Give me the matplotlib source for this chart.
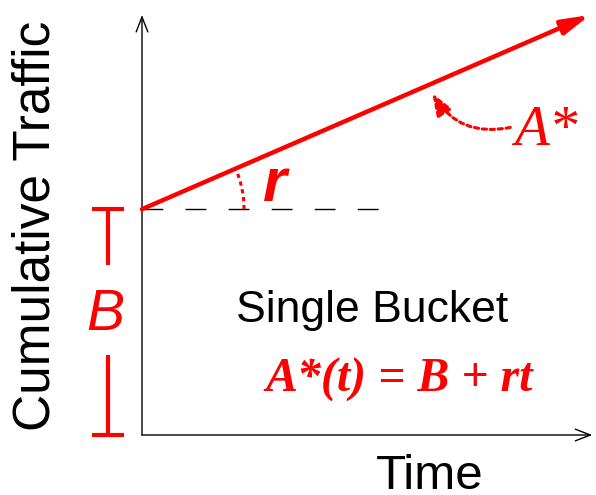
import numpy as np
import matplotlib.pyplot as plt

# token bucket envelope: A*(t) = B + r t
bucket_depth = 1.0
rate = 0.86
t_line = [0.0, 1.0]
a_line = [1.0, 1.86]
t_dash = [0.0, 0.53]

t_max = 1.005
y_max = 1.86

fig = plt.figure(figsize=(5.96, 4.95), dpi=100)
ax = fig.add_axes([142 / 596, 60 / 495, 448 / 596, 420 / 495])
ax.set_xlim(0, 1.0)
ax.set_ylim(0, y_max)
ax.axis("off")

# axes arrows
axis_kw = dict(arrowstyle="->,head_length=0.9,head_width=0.35", lw=1.0,
               color="black", shrinkA=0, shrinkB=0, mutation_scale=12)
ax.annotate("", xy=(t_max, 0), xytext=(0, 0), arrowprops=axis_kw,
            annotation_clip=False)
ax.annotate("", xy=(0, y_max), xytext=(0, 0), arrowprops=axis_kw,
            annotation_clip=False)

# dashed level at B
ax.plot(t_dash, [bucket_depth, bucket_depth], color="black", lw=1.0,
        dashes=(15, 16), clip_on=False)

# arrival curve
ax.annotate("", xy=(t_line[1], a_line[1]), xytext=(t_line[0], a_line[0]),
            arrowprops=dict(arrowstyle="-|>,head_length=1.2,head_width=0.32",
                            lw=3.2, color="red", shrinkA=0, shrinkB=0,
                            mutation_scale=14),
            annotation_clip=False)

# angle arc for r (radius in pixels, converted to data)
px_x = 448 / 1.0
px_y = 420 / y_max
R = 102
phi = np.linspace(0, np.radians(21), 30)
ax.plot(R * np.cos(phi) / px_x, bucket_depth + R * np.sin(phi) / px_y,
        color="red", lw=2.2, linestyle=(0, (1.4, 1.2)), clip_on=False)
ax.text(0.27, 1.035, "r", color="red", fontsize=44, fontweight="bold",
        fontstyle="italic", family="Liberation Sans", ha="left", va="baseline")

# A* label with dotted curved arrow
ax.annotate("", xy=(0.648, 1.513), xytext=(0.822, 1.362),
            arrowprops=dict(arrowstyle="-|>,head_length=1.2,head_width=0.45",
                            lw=2.2, color="red", linestyle=(0, (1.4, 1.2)),
                            connectionstyle="arc3,rad=-0.35",
                            shrinkA=0, shrinkB=0, mutation_scale=11))
ax.text(0.83, 1.283, "A*", color="red", fontsize=41, fontstyle="italic",
        family="Liberation Serif", ha="left", va="baseline")

# bucket depth marker
bar_t = -0.076
tick_w = 0.036
ax.plot([bar_t - tick_w, bar_t + tick_w], [bucket_depth, bucket_depth],
        color="red", lw=3, clip_on=False, solid_capstyle="butt")
ax.plot([bar_t - tick_w, bar_t + tick_w], [0, 0],
        color="red", lw=3, clip_on=False, solid_capstyle="butt")
ax.plot([bar_t, bar_t], [bucket_depth, 0.752], color="red", lw=3,
        clip_on=False, solid_capstyle="butt")
ax.plot([bar_t, bar_t], [0.354, 0], color="red", lw=3,
        clip_on=False, solid_capstyle="butt")
ax.text(bar_t - 0.005, 0.465, "B", color="red", fontsize=41,
        fontstyle="italic", family="Liberation Sans", ha="center",
        va="baseline")

ax.text(0.514, 0.5, "Single Bucket", color="black", fontsize=32,
        family="Liberation Sans", ha="center", va="baseline")
ax.text(0.574, 0.19, "A*(t) = B + rt", color="red", fontsize=34.5,
        fontweight="bold", fontstyle="italic", family="Liberation Serif",
        ha="center", va="baseline")

fig.text(36 / 596, 1 - 226 / 495, "Cumulative Traffic", rotation=90,
         fontsize=37, family="Liberation Sans", ha="center", va="center")
fig.text(430 / 596, 1 - 489 / 495, "Time", fontsize=35.5,
         family="Liberation Sans", ha="center", va="baseline")

fig.savefig("out.png", dpi=100)
